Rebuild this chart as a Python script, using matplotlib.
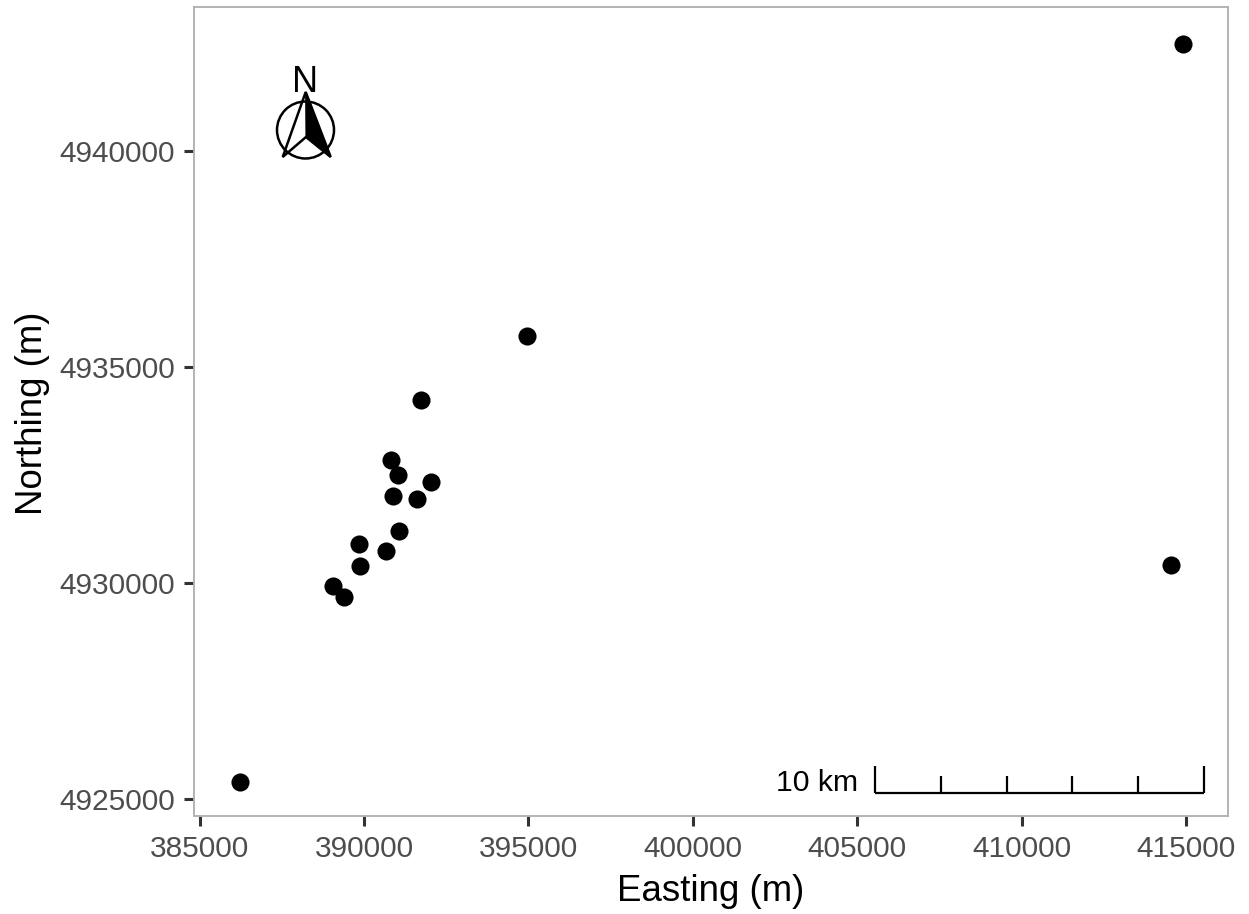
"""
Sampling sites on a UTM grid, with scale bar and north arrow.
"""

import matplotlib
matplotlib.use("Agg")
import matplotlib.pyplot as plt
from matplotlib.patches import Circle, Polygon

plt.rcParams["font.family"] = ["Liberation Sans", "DejaVu Sans"]

W, H = 1249, 914

easting = [414906, 394954, 391721, 390818, 391022, 392035, 390870, 391600,
           391061, 389845, 390675, 389884, 389054, 389380, 414541, 386226]
northing = [4942477, 4935718, 4934236, 4932847, 4932507, 4932345, 4932021, 4931944,
            4931211, 4930910, 4930734, 4930400, 4929931, 4929669, 4930417, 4925394]

x_ticks = [385000, 390000, 395000, 400000, 405000, 410000, 415000]
y_ticks = [4925000, 4930000, 4935000, 4940000]

bar_start = 405538
bar_length = 10000
bar_step = 2000
bar_base = 4925146
bar_end_top = 4925770
bar_tick_top = 4925530

fig = plt.figure(figsize=(W / 100, H / 100), dpi=100)
ax = fig.add_axes([194 / W, 1 - 816 / H, (1228 - 194) / W, (816 - 7) / H])

ax.scatter(easting, northing, s=170, color="black", linewidths=0, zorder=3)

ax.set_xlim(384827, 416274)
ax.set_ylim(4924606, 4943333)
ax.set_xticks(x_ticks)
ax.set_yticks(y_ticks)
ax.ticklabel_format(useOffset=False, style="plain")
ax.tick_params(length=7.2, width=2.2, color="#333333", labelcolor="#4D4D4D",
               labelsize=21.5, pad=6.5)
ax.set_xlabel("Easting (m)", fontsize=26.4, color="black", labelpad=8)
ax.set_ylabel("Northing (m)", fontsize=26.4, color="black", labelpad=7, y=0.4975)
for spine in ax.spines.values():
    spine.set_color("#B3B3B3")
    spine.set_linewidth(1.4)

# scale bar
bar_kw = dict(color="black", linewidth=1.6, solid_capstyle="butt", zorder=4)
ax.plot([bar_start, bar_start + bar_length], [bar_base, bar_base], **bar_kw)
for i in range(0, bar_length + 1, bar_step):
    top = bar_end_top if i in (0, bar_length) else bar_tick_top
    ax.plot([bar_start + i, bar_start + i], [bar_base, top], **bar_kw)
ax.text(bar_start - 500, bar_base + 230, "10 km", fontsize=21.8, color="black",
        ha="right", va="center")

# north arrow, drawn in pixel units on an overlay
over = fig.add_axes([0, 0, 1, 1])
over.set_xlim(0, W)
over.set_ylim(H, 0)
over.axis("off")
over.add_patch(Circle((305.5, 130), 28.5, fill=False, edgecolor="black", linewidth=1.8))
over.add_patch(Polygon([(305.7, 92), (282.7, 157), (306, 137), (330.7, 157)], closed=True,
                       fill=False, edgecolor="black", linewidth=1.8, joinstyle="miter"))
over.add_patch(Polygon([(305.7, 92), (306, 137), (330.7, 157)], closed=True,
                       facecolor="black", edgecolor="black", linewidth=0.8))
over.text(305.5, 92, "N", fontsize=26, color="black", ha="center", va="baseline")

fig.savefig("out.png", dpi=100)
